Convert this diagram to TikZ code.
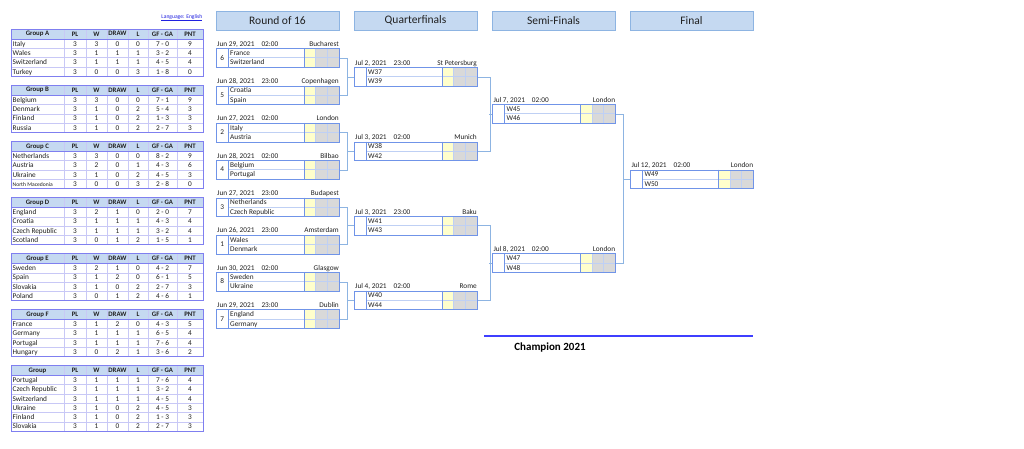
\documentclass[tikz,border=0pt]{standalone}
\usepackage{fontspec}
\setmainfont{Carlito}
\usetikzlibrary{calc}
\definecolor{hdrfill}{HTML}{C5D9F1}
\definecolor{hdrline}{HTML}{8DB4E2}
\definecolor{tblline}{HTML}{7F7FF0}
\definecolor{tblinner}{HTML}{C8C8F6}
\definecolor{boxline}{HTML}{7094E8}
\definecolor{boxinner}{HTML}{BFD0F4}
\definecolor{connc}{HTML}{8DB4E2}
\definecolor{yell}{HTML}{FFFFCC}
\definecolor{grayc}{HTML}{D9D9D9}
\definecolor{champ}{HTML}{3F3FFF}
\definecolor{linkc}{HTML}{2020E0}
\definecolor{txt}{HTML}{202020}
\tikzset{
  smalltext/.style={font=\fontsize{7.3}{8}\selectfont},
  headbox/.style={draw=hdrline, fill=hdrfill, line width=0.8pt, minimum width=123pt, minimum height=19pt, font=\fontsize{11.5}{13}\selectfont},
  matchnode/.style={draw=boxline, line width=0.8pt, minimum width=123pt, minimum height=18.8pt},
  connline/.style={draw=connc, line width=0.8pt},
  hdrtext/.style={font=\fontsize{6.8}{8}\selectfont\bfseries},
}
\newcommand{\matchbox}[8]{%
  \fill[yell] (#2+88.5,#3) rectangle (#2+99.7,#3+18.8);
  \fill[grayc] (#2+99.7,#3) rectangle (#2+123,#3+18.8);
  \draw[boxinner, line width=0.6pt] (#2+12.3,#3+9.4) -- (#2+123,#3+9.4);
  \draw[boxline, line width=0.7pt] (#2+12.3,#3) -- ++(0,18.8);
  \draw[boxline, line width=0.7pt] (#2+88.5,#3) -- ++(0,18.8);
  \draw[boxinner, line width=0.6pt] (#2+99.7,#3) -- ++(0,18.8);
  \draw[boxinner, line width=0.6pt] (#2+111.35,#3) -- ++(0,18.8);
  \node[matchnode, anchor=north west] (#1) at (#2,#3) {};
  \node[smalltext] (#1n) at (#2+6.15,#3+9.4) {#4};
  \node[smalltext, anchor=base west] (#1a) at (#2+14,#3+7.2) {#5};
  \node[smalltext, anchor=base west] (#1b) at (#2+14,#3+16.6) {#6};
  \node[smalltext, anchor=base west] (#1d) at (#2+1,#3-2) {#7};
  \node[smalltext, anchor=base east] (#1c) at (#2+123,#3-2) {#8};
}
\newcommand{\grouptable}[5]{%
  \begin{scope}[shift={(0,#2)}]
    \pgfmathsetmacro\tblbot{10+9.3*#3}
    \fill[hdrfill] (11,0) rectangle (203,10);
    \foreach \xx in {64,86,107,128,148,177} \draw[tblinner, line width=0.5pt] (\xx,0) -- (\xx,\tblbot);
    \foreach \k in {1,...,#3} \draw[tblinner, line width=0.5pt] (11,{10+9.3*\k}) -- (203,{10+9.3*\k});
    \draw[tblline, line width=0.6pt] (11,10) -- (203,10);
    \draw[tblline, line width=0.8pt] (11,0) rectangle (203,\tblbot);
    \node[hdrtext] (#1h0) at (37.5,5) {#4};
    \node[hdrtext] (#1h1) at (75,5) {PL};
    \node[hdrtext] (#1h2) at (96.5,5) {W};
    \node[hdrtext] (#1h3) at (117.5,4.6) {DRAW};
    \node[hdrtext] (#1h4) at (138,5) {L};
    \node[hdrtext] (#1h5) at (162.5,5) {GF - GA};
    \node[hdrtext] (#1h6) at (190,5) {PNT};
    \foreach \tm/\a/\b/\c/\d/\e/\f [count=\i] in {#5} {
      \pgfmathsetmacro\yy{10+9.3*\i-2.2}
      \node[smalltext, anchor=base west] (#1r\i t) at (12.5,\yy) {\tm};
      \node[smalltext, anchor=base] (#1r\i a) at (75,\yy) {\a};
      \node[smalltext, anchor=base] (#1r\i b) at (96.5,\yy) {\b};
      \node[smalltext, anchor=base] (#1r\i c) at (117.5,\yy) {\c};
      \node[smalltext, anchor=base] (#1r\i d) at (138,\yy) {\d};
      \node[smalltext, anchor=base] (#1r\i e) at (162.5,\yy) {\e};
      \node[smalltext, anchor=base] (#1r\i f) at (190,\yy) {\f};
    }
  \end{scope}
}
\begin{document}
\begin{tikzpicture}[x=1pt,y=-1pt, every node/.style={inner sep=0pt, text=txt}]
\useasboundingbox[fill=white] (0,0) rectangle (1024,448);

% language link
\node[font=\fontsize{5.6}{6}\selectfont, text=linkc, anchor=base east] (lang) at (202.5,18) {\underline{Language: English}};

% group tables
\grouptable{ga}{29}{4}{Group A}{Italy/3/3/0/0/7 - 0/9, Wales/3/1/1/1/3 - 2/4, Switzerland/3/1/1/1/4 - 5/4, Turkey/3/0/0/3/1 - 8/0}
\grouptable{gb}{85.2}{4}{Group B}{Belgium/3/3/0/0/7 - 1/9, Denmark/3/1/0/2/5 - 4/3, Finland/3/1/0/2/1 - 3/3, Russia/3/1/0/2/2 - 7/3}
\grouptable{gc}{141.4}{4}{Group C}{Netherlands/3/3/0/0/8 - 2/9, Austria/3/2/0/1/4 - 3/6, Ukraine/3/1/0/2/4 - 5/3, {\fontsize{5.6}{6}\selectfont North Macedonia}/3/0/0/3/2 - 8/0}
\grouptable{gd}{197.5}{4}{Group D}{England/3/2/1/0/2 - 0/7, Croatia/3/1/1/1/4 - 3/4, Czech Republic/3/1/1/1/3 - 2/4, Scotland/3/0/1/2/1 - 5/1}
\grouptable{ge}{253.5}{4}{Group E}{Sweden/3/2/1/0/4 - 2/7, Spain/3/1/2/0/6 - 1/5, Slovakia/3/1/0/2/2 - 7/3, Poland/3/0/1/2/4 - 6/1}
\grouptable{gf}{309.3}{4}{Group F}{France/3/1/2/0/4 - 3/5, Germany/3/1/1/1/6 - 5/4, Portugal/3/1/1/1/7 - 6/4, Hungary/3/0/2/1/3 - 6/2}
\grouptable{gg}{365.3}{6}{Group}{Portugal/3/1/1/1/7 - 6/4, Czech Republic/3/1/1/1/3 - 2/4, Switzerland/3/1/1/1/4 - 5/4, Ukraine/3/1/0/2/4 - 5/3, Finland/3/1/0/2/1 - 3/3, Slovakia/3/1/0/2/2 - 7/3}

% round headings
\node[headbox] (h1) at (277.5,20.5) {Round of 16};
\node[headbox] (h2) at (415.5,20.5) {Quarterfinals};
\node[headbox] (h3) at (553.5,20.5) {Semi-Finals};
\node[headbox] (h4) at (691.5,20.5) {Final};

% round of 16
\matchbox{m1}{216}{48.3}{6}{France}{Switzerland}{Jun 29, 2021\hspace{7pt}02:00}{Bucharest}
\matchbox{m2}{216}{85.6}{5}{Croatia}{Spain}{Jun 28, 2021\hspace{7pt}23:00}{Copenhagen}
\matchbox{m3}{216}{122.9}{2}{Italy}{Austria}{Jun 27, 2021\hspace{7pt}02:00}{London}
\matchbox{m4}{216}{160.2}{4}{Belgium}{Portugal}{Jun 28, 2021\hspace{7pt}02:00}{Bilbao}
\matchbox{m5}{216}{197.5}{3}{Netherlands}{Czech Republic}{Jun 27, 2021\hspace{7pt}23:00}{Budapest}
\matchbox{m6}{216}{234.8}{1}{Wales}{Denmark}{Jun 26, 2021\hspace{7pt}23:00}{Amsterdam}
\matchbox{m7}{216}{272.1}{8}{Sweden}{Ukraine}{Jun 30, 2021\hspace{7pt}02:00}{Glasgow}
\matchbox{m8}{216}{309.4}{7}{England}{Germany}{Jun 29, 2021\hspace{7pt}23:00}{Dublin}

% quarterfinals
\matchbox{q1}{354}{67.1}{}{W37}{W39}{Jul 2, 2021\hspace{7pt}23:00}{St Petersburg}
\matchbox{q2}{354}{141.6}{}{W38}{W42}{Jul 3, 2021\hspace{7pt}02:00}{Munich}
\matchbox{q3}{354}{216.0}{}{W41}{W43}{Jul 3, 2021\hspace{7pt}23:00}{Baku}
\matchbox{q4}{354}{290.5}{}{W40}{W44}{Jul 4, 2021\hspace{7pt}02:00}{Rome}

% semi-finals
\matchbox{s1}{492.3}{104.3}{}{W45}{W46}{Jul 7, 2021\hspace{7pt}02:00}{London}
\matchbox{s2}{492.3}{253.4}{}{W47}{W48}{Jul 8, 2021\hspace{7pt}02:00}{London}

% final
\matchbox{fi}{630.3}{169.5}{}{W49}{W50}{Jul 12, 2021\hspace{7pt}02:00}{London}

% connectors
\foreach \a/\b/\q in {m1/m2/q1, m3/m4/q2, m5/m6/q3, m7/m8/q4} {
  \draw[connline] (\a.east) -- ++(7.7,0) |- (\b.east);
  \draw[connline] (\q.west) -- ++(-7.3,0);
}
\foreach \a/\b/\s in {q1/q2/s1, q3/q4/s2} {
  \draw[connline] (\a.east) -- ++(12.3,0) |- (\b.east);
  \draw[connline] (\s.west) -- ++(-3,0);
}
\draw[connline] (s1.east) -- ++(7.7,0) |- (s2.east);
\draw[connline] (fi.west) -- ++(-7.6,0);

% champion
\coordinate (cl) at (484,336);
\coordinate (cr) at (753,336);
\draw[champ, line width=1.5pt] (cl) -- (cr);
\node[font=\fontsize{11}{13}\selectfont\bfseries, text=black] (champ) at (550,347) {Champion 2021};
\end{tikzpicture}
\end{document}
